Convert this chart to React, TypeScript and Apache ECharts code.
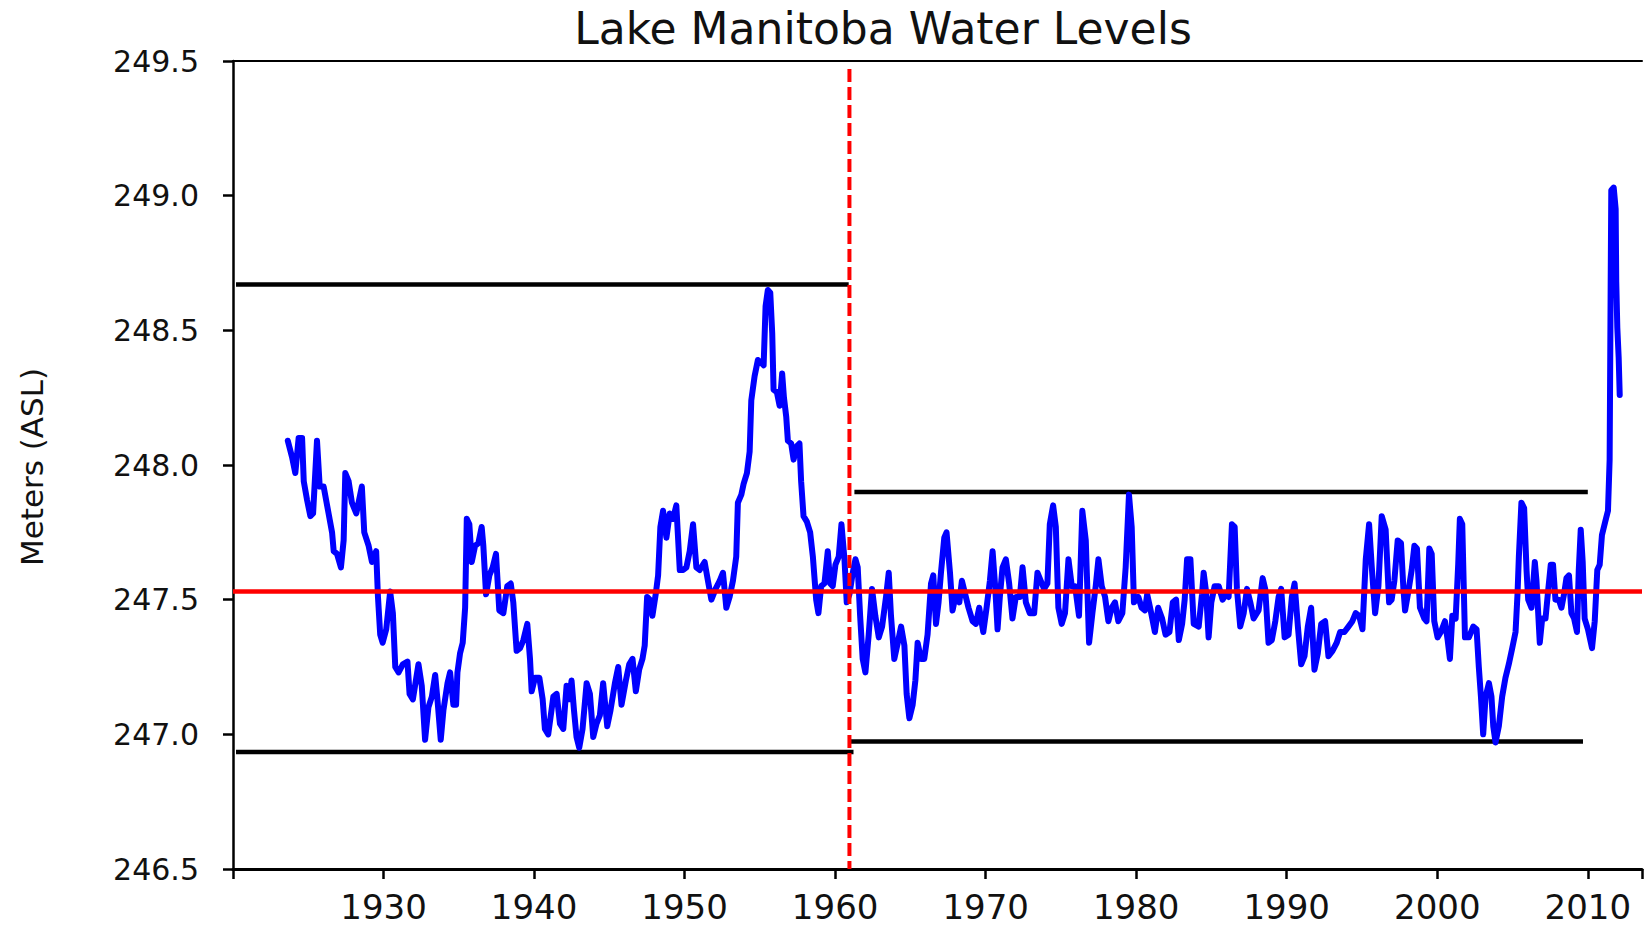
import React, { useEffect, useRef } from "react";
import * as echarts from "echarts";

// Monthly-ish water level readings (year, metres ASL)
const years = [
  1923.64, 1923.92, 1924.14, 1924.36, 1924.59, 1924.70, 1924.92, 1925.14, 1925.32, 1925.58,
  1925.76, 1926.02, 1926.35, 1926.58, 1926.69, 1926.91, 1927.17, 1927.35, 1927.46, 1927.68,
  1927.90, 1928.19, 1928.34, 1928.56, 1928.72, 1929.01, 1929.23, 1929.51, 1929.63, 1929.78,
  1929.94, 1930.18, 1930.44, 1930.62, 1930.78, 1931.00, 1931.28, 1931.59, 1931.73, 1931.95,
  1932.32, 1932.54, 1932.76, 1932.98, 1933.21, 1933.43, 1933.58, 1933.80, 1933.98, 1934.25,
  1934.42, 1934.64, 1934.82, 1934.91, 1935.08, 1935.26, 1935.42, 1935.53, 1935.70, 1935.86,
  1936.08, 1936.30, 1936.52, 1936.63, 1936.81, 1937.03, 1937.25, 1937.47, 1937.69, 1937.96,
  1938.22, 1938.45, 1938.62, 1938.84, 1939.07, 1939.29, 1939.55, 1939.73, 1939.84, 1940.06,
  1940.35, 1940.57, 1940.72, 1940.94, 1941.28, 1941.50, 1941.72, 1941.94, 1942.16, 1942.34,
  1942.49, 1942.65, 1942.82, 1943.00, 1943.22, 1943.49, 1943.71, 1943.93, 1944.15, 1944.37,
  1944.59, 1944.86, 1945.08, 1945.37, 1945.59, 1945.81, 1946.10, 1946.32, 1946.54, 1946.76,
  1946.98, 1947.20, 1947.35, 1947.51, 1947.69, 1947.86, 1948.08, 1948.24, 1948.39, 1948.57,
  1948.79, 1949.01, 1949.23, 1949.45, 1949.68, 1949.90, 1950.12, 1950.34, 1950.56, 1950.78,
  1951.00, 1951.33, 1951.55, 1951.78, 1952.06, 1952.33, 1952.55, 1952.77, 1952.99, 1953.21,
  1953.43, 1953.54, 1953.77, 1953.92, 1954.14, 1954.32, 1954.43, 1954.65, 1954.87, 1955.09,
  1955.25, 1955.38, 1955.53, 1955.69, 1955.82, 1955.91, 1956.13, 1956.31, 1956.48, 1956.60,
  1956.75, 1956.86, 1957.08, 1957.24, 1957.46, 1957.63, 1957.74, 1957.90, 1958.12, 1958.34,
  1958.52, 1958.74, 1958.89, 1959.07, 1959.29, 1959.51, 1959.67, 1959.84, 1960.02, 1960.24,
  1960.42, 1960.62, 1960.77, 1960.95, 1961.17, 1961.35, 1961.50, 1961.66, 1961.83, 1962.01,
  1962.23, 1962.45, 1962.67, 1962.90, 1963.12, 1963.38, 1963.56, 1963.71, 1963.93, 1964.16,
  1964.38, 1964.60, 1964.75, 1964.93, 1965.15, 1965.33, 1965.48, 1965.70, 1965.92, 1966.14,
  1966.37, 1966.52, 1966.70, 1966.87, 1967.03, 1967.25, 1967.40, 1967.63, 1967.80, 1968.02,
  1968.25, 1968.42, 1968.64, 1968.86, 1969.13, 1969.35, 1969.57, 1969.84, 1970.06, 1970.28,
  1970.46, 1970.63, 1970.79, 1970.94, 1971.12, 1971.34, 1971.56, 1971.78, 1972.00, 1972.27,
  1972.45, 1972.67, 1972.93, 1973.22, 1973.44, 1973.66, 1973.88, 1974.10, 1974.26, 1974.48,
  1974.66, 1974.83, 1975.05, 1975.27, 1975.50, 1975.72, 1975.94, 1976.20, 1976.42, 1976.65,
  1976.87, 1977.09, 1977.31, 1977.49, 1977.71, 1977.93, 1978.15, 1978.37, 1978.59, 1978.81,
  1979.08, 1979.30, 1979.52, 1979.70, 1979.85, 1980.14, 1980.36, 1980.58, 1980.73, 1980.96,
  1981.24, 1981.46, 1981.72, 1981.95, 1982.21, 1982.43, 1982.65, 1982.83, 1983.05, 1983.22,
  1983.38, 1983.60, 1983.82, 1984.15, 1984.37, 1984.48, 1984.64, 1984.81, 1984.99, 1985.21,
  1985.48, 1985.74, 1985.96, 1986.14, 1986.36, 1986.54, 1986.69, 1986.91, 1987.14, 1987.36,
  1987.58, 1987.80, 1988.13, 1988.40, 1988.57, 1988.79, 1989.01, 1989.24, 1989.46, 1989.63,
  1989.86, 1990.12, 1990.34, 1990.52, 1990.74, 1990.96, 1991.18, 1991.40, 1991.62, 1991.84,
  1992.06, 1992.29, 1992.55, 1992.77, 1993.04, 1993.32, 1993.55, 1993.83, 1994.10, 1994.36,
  1994.58, 1994.81, 1995.03, 1995.25, 1995.47, 1995.65, 1995.87, 1996.09, 1996.31, 1996.57,
  1996.80, 1996.97, 1997.15, 1997.37, 1997.59, 1997.75, 1997.86, 1998.08, 1998.30, 1998.48,
  1998.65, 1998.85, 1999.14, 1999.29, 1999.47, 1999.63, 1999.80, 2000.02, 2000.24, 2000.51,
  2000.69, 2000.84, 2001.00, 2001.22, 2001.39, 2001.50, 2001.66, 2001.84, 2002.10, 2002.39,
  2002.61, 2002.76, 2002.90, 2003.05, 2003.21, 2003.43, 2003.60, 2003.72, 2003.87, 2004.09,
  2004.31, 2004.53, 2004.75, 2004.98, 2005.20, 2005.33, 2005.42, 2005.59, 2005.77, 2005.93,
  2006.04, 2006.26, 2006.48, 2006.59, 2006.81, 2006.97, 2007.19, 2007.36, 2007.54, 2007.69,
  2007.85, 2008.07, 2008.25, 2008.42, 2008.58, 2008.75, 2008.91, 2009.09, 2009.28, 2009.40,
  2009.53, 2009.66, 2009.79, 2010.01, 2010.28, 2010.46, 2010.63, 2010.79, 2010.94, 2011.16,
  2011.34, 2011.45, 2011.52, 2011.56, 2011.72, 2011.85, 2011.89, 2011.96, 2012.05, 2012.12,
];

const levels = [
  248.09, 248.03, 247.97, 248.10, 248.10, 247.94, 247.87, 247.81, 247.82, 248.09,
  247.92, 247.92, 247.82, 247.75, 247.68, 247.67, 247.62, 247.72, 247.97, 247.94,
  247.86, 247.82, 247.86, 247.92, 247.75, 247.70, 247.64, 247.68, 247.51, 247.37,
  247.34, 247.39, 247.53, 247.45, 247.25, 247.23, 247.26, 247.27, 247.15, 247.13,
  247.26, 247.18, 246.98, 247.10, 247.14, 247.22, 247.13, 246.98, 247.09, 247.19,
  247.23, 247.11, 247.11, 247.23, 247.30, 247.34, 247.47, 247.80, 247.78, 247.64,
  247.70, 247.71, 247.77, 247.70, 247.52, 247.59, 247.62, 247.67, 247.46, 247.45,
  247.55, 247.56, 247.49, 247.31, 247.32, 247.35, 247.41, 247.28, 247.16, 247.21,
  247.21, 247.13, 247.02, 247.00, 247.14, 247.15, 247.04, 247.02, 247.18, 247.13,
  247.20, 247.09, 246.99, 246.95, 247.02, 247.19, 247.15, 246.99, 247.04, 247.07,
  247.19, 247.03, 247.09, 247.19, 247.25, 247.11, 247.20, 247.26, 247.28, 247.16,
  247.24, 247.28, 247.33, 247.51, 247.50, 247.44, 247.52, 247.59, 247.77, 247.83,
  247.73, 247.82, 247.80, 247.85, 247.61, 247.61, 247.62, 247.68, 247.78, 247.62,
  247.61, 247.64, 247.57, 247.50, 247.54, 247.57, 247.60, 247.47, 247.51, 247.57,
  247.66, 247.86, 247.89, 247.93, 247.97, 248.05, 248.24, 248.33, 248.39, 248.38,
  248.37, 248.59, 248.65, 248.64, 248.49, 248.28, 248.27, 248.22, 248.34, 248.25,
  248.18, 248.09, 248.08, 248.02, 248.07, 248.08, 247.94, 247.81, 247.79, 247.75,
  247.66, 247.50, 247.45, 247.55, 247.56, 247.68, 247.56, 247.55, 247.63, 247.66,
  247.78, 247.65, 247.49, 247.52, 247.60, 247.65, 247.62, 247.44, 247.28, 247.23,
  247.37, 247.54, 247.44, 247.36, 247.40, 247.51, 247.60, 247.44, 247.28, 247.34,
  247.40, 247.33, 247.15, 247.06, 247.11, 247.20, 247.34, 247.28, 247.28, 247.37,
  247.56, 247.59, 247.41, 247.49, 247.60, 247.73, 247.75, 247.60, 247.46, 247.52,
  247.49, 247.57, 247.52, 247.47, 247.42, 247.41, 247.47, 247.38, 247.47, 247.57,
  247.68, 247.55, 247.39, 247.51, 247.62, 247.65, 247.56, 247.43, 247.51, 247.51,
  247.62, 247.49, 247.45, 247.45, 247.60, 247.57, 247.54, 247.56, 247.78, 247.85,
  247.77, 247.47, 247.41, 247.45, 247.65, 247.55, 247.55, 247.44, 247.83, 247.72,
  247.34, 247.45, 247.55, 247.65, 247.55, 247.51, 247.42, 247.47, 247.49, 247.42,
  247.45, 247.62, 247.89, 247.77, 247.49, 247.51, 247.47, 247.46, 247.52, 247.46,
  247.38, 247.47, 247.43, 247.37, 247.38, 247.49, 247.50, 247.35, 247.41, 247.50,
  247.65, 247.65, 247.41, 247.40, 247.52, 247.60, 247.53, 247.36, 247.49, 247.55,
  247.55, 247.50, 247.52, 247.51, 247.78, 247.77, 247.54, 247.40, 247.45, 247.54,
  247.49, 247.43, 247.46, 247.58, 247.54, 247.34, 247.35, 247.42, 247.51, 247.54,
  247.36, 247.37, 247.51, 247.56, 247.40, 247.26, 247.29, 247.40, 247.47, 247.24,
  247.30, 247.41, 247.42, 247.29, 247.31, 247.34, 247.38, 247.38, 247.40, 247.42,
  247.45, 247.44, 247.39, 247.65, 247.78, 247.62, 247.45, 247.55, 247.81, 247.76,
  247.49, 247.50, 247.57, 247.72, 247.71, 247.54, 247.46, 247.53, 247.61, 247.70,
  247.69, 247.47, 247.43, 247.42, 247.69, 247.67, 247.42, 247.36, 247.38, 247.42,
  247.35, 247.28, 247.44, 247.43, 247.63, 247.80, 247.78, 247.36, 247.36, 247.40,
  247.39, 247.25, 247.14, 247.00, 247.14, 247.19, 247.14, 247.03, 246.97, 247.03,
  247.14, 247.21, 247.26, 247.32, 247.38, 247.52, 247.66, 247.86, 247.84, 247.61,
  247.50, 247.47, 247.64, 247.57, 247.34, 247.43, 247.43, 247.53, 247.63, 247.63,
  247.50, 247.50, 247.47, 247.52, 247.58, 247.59, 247.45, 247.43, 247.38, 247.61,
  247.76, 247.64, 247.43, 247.39, 247.32, 247.42, 247.61, 247.63, 247.74, 247.79,
  247.83, 248.02, 248.68, 249.02, 249.03, 248.95, 248.68, 248.51, 248.40, 248.26,
];

// Reference levels
const meanLevel = 247.53;
const splitYear = 1960.95;
const rangeStarts = [1920.2, 1920.2, 1961.28, 1960.95];
const rangeEnds = [1960.9, 1961.22, 2010.0, 2009.68];
const rangeLevels = [248.67, 246.934, 247.9, 246.973];

// Axis extents and ticks
const xMin = 1920;
const xMax = 2013.6;
const xStep = 10;
const yMin = 246.5;
const yMax = 249.5;
const yStep = 0.5;

const titleText = "Lake Manitoba Water Levels";
const yTitle = "Meters (ASL)";

const FONT = "'DejaVu Sans', sans-serif";

export default function App() {
  const ref = useRef<HTMLDivElement>(null);

  useEffect(() => {
    if (!ref.current) return;
    const chart = echarts.init(ref.current, undefined, { renderer: "svg" });

    const levelData = years.map((y, i) => [y, levels[i]]);
    const refSeries = rangeLevels.map((lv, i) => ({
      type: "line",
      data: [
        [rangeStarts[i], lv],
        [rangeEnds[i], lv],
      ],
      symbol: "none",
      silent: true,
      z: 2,
      lineStyle: { color: "#000000", width: 4.5 },
    }));

    chart.setOption({
      animation: false,
      backgroundColor: "#ffffff",
      grid: { left: 233, right: 0, top: 61, bottom: 61, containLabel: false },
      xAxis: [
        {
          type: "value",
          min: xMin,
          max: xMax,
          interval: xStep,
          position: "bottom",
          axisLine: { show: true, onZero: false, lineStyle: { color: "#000", width: 3 } },
          axisTick: { show: true, inside: false, length: 10, lineStyle: { color: "#000", width: 2.5 } },
          axisLabel: {
            margin: 21,
            fontSize: 34,
            fontFamily: FONT,
            color: "#111",
            formatter: (v: number) =>
              Math.abs(v % xStep) < 1e-6 && v !== xMin ? String(Math.round(v)) : "",
          },
          splitLine: { show: false },
        },
        {
          type: "value",
          min: xMin,
          max: xMax,
          position: "top",
          axisLine: { show: true, onZero: false, lineStyle: { color: "#000", width: 2 } },
          axisTick: { show: false },
          axisLabel: { show: false },
          splitLine: { show: false },
        },
      ],
      yAxis: {
        type: "value",
        min: yMin,
        max: yMax,
        interval: yStep,
        axisLine: { show: true, onZero: false, lineStyle: { color: "#000", width: 2.5 } },
        axisTick: { show: true, inside: false, length: 10, lineStyle: { color: "#000", width: 2.5 } },
        axisLabel: {
          margin: 34,
          fontSize: 30,
          fontFamily: FONT,
          color: "#111",
          formatter: (v: number) => v.toFixed(1),
        },
        splitLine: { show: false },
      },
      graphic: [
        {
          type: "text",
          x: 883,
          y: 28,
          style: {
            text: titleText,
            font: `44px ${FONT}`,
            fill: "#111",
            textAlign: "center",
            textVerticalAlign: "middle",
          },
        },
        {
          type: "text",
          x: 32,
          y: 467,
          rotation: Math.PI / 2,
          style: {
            text: yTitle,
            font: `31px ${FONT}`,
            fill: "#111",
            textAlign: "center",
            textVerticalAlign: "middle",
          },
        },
      ],
      series: [
        ...refSeries,
        {
          type: "line",
          data: levelData,
          symbol: "none",
          showSymbol: false,
          silent: true,
          z: 3,
          lineStyle: { color: "#0000ff", width: 6, join: "round", cap: "round" },
        },
        {
          type: "line",
          data: [
            [xMin, meanLevel],
            [xMax, meanLevel],
          ],
          symbol: "none",
          silent: true,
          z: 4,
          lineStyle: { color: "#ff0000", width: 4.5 },
        },
        {
          type: "line",
          data: [
            [splitYear, 249.47],
            [splitYear, yMin],
          ],
          symbol: "none",
          silent: true,
          z: 5,
          lineStyle: { color: "#ff0000", width: 4, type: [13, 5] },
        },
      ],
    });

    return () => chart.dispose();
  }, []);

  return (
    <div
      ref={ref}
      style={{ position: "fixed", left: 0, top: 0, width: 1645, height: 930, background: "#fff" }}
    />
  );
}
